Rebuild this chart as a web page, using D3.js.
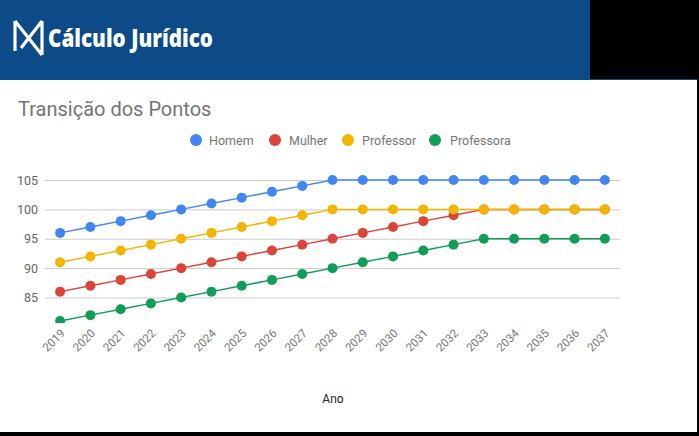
<!DOCTYPE html>
<html><head><meta charset="utf-8">
<script src="https://cdn.jsdelivr.net/npm/d3@7"></script>
<style>html,body{margin:0;padding:0;background:#fff;}svg{display:block;}</style>
</head><body>
<svg id="c" width="699" height="436"></svg>
<script>
const years = [2019,2020,2021,2022,2023,2024,2025,2026,2027,2028,2029,2030,2031,2032,2033,2034,2035,2036,2037];
const homem =      [96,97,98,99,100,101,102,103,104,105,105,105,105,105,105,105,105,105,105];
const mulher =     [86,87,88,89,90,91,92,93,94,95,96,97,98,99,100,100,100,100,100];
const professor =  [91,92,93,94,95,96,97,98,99,100,100,100,100,100,100,100,100,100,100];
const professora = [81,82,83,84,85,86,87,88,89,90,91,92,93,94,95,95,95,95,95];
const seriesNames = ["Homem","Mulher","Professor","Professora"];
const seriesColors = ["#4285f4","#db4437","#f4b400","#0f9d58"];
const yTicks = [85,90,95,100,105];

const series = [homem, mulher, professor, professora];
const svg = d3.select("#c");
const font = "Roboto, 'Noto Sans', sans-serif";

// header
svg.append("rect").attr("x",0).attr("y",0).attr("width",699).attr("height",80).attr("fill","#0c4a88");
svg.append("rect").attr("x",590).attr("y",0).attr("width",109).attr("height",79).attr("fill","#000");
// logo icon
svg.append("path")
  .attr("d","M15,21 L15,51 M15,21 L42,55 M42,21 L42,55 M42,21 L21,48")
  .attr("stroke","#fff").attr("stroke-width",3.2).attr("fill","none").attr("stroke-linejoin","miter");
svg.append("text").attr("x",48).attr("y",47).text("Cálculo Jurídico")
  .attr("fill","#fff").attr("font-family","'Open Sans', sans-serif").attr("font-weight","800")
  .attr("font-size",25).attr("textLength",165).attr("lengthAdjust","spacingAndGlyphs");

// borders
svg.append("rect").attr("x",697).attr("y",79).attr("width",2).attr("height",357).attr("fill","#000");
svg.append("rect").attr("x",0).attr("y",432).attr("width",699).attr("height",4).attr("fill","#000");

// title
svg.append("text").attr("x",18).attr("y",116).text("Transição dos Pontos")
  .attr("fill","#757575").attr("font-family",font).attr("font-size",20);

// legend
const legX = [196,275,348,435];
const legTX = [209,289,362,450];
seriesNames.forEach((n,i)=>{
  svg.append("circle").attr("cx",legX[i]).attr("cy",140).attr("r",6).attr("fill",seriesColors[i]);
  svg.append("text").attr("x",legTX[i]).attr("y",144.5).text(n)
    .attr("fill","#757575").attr("font-family",font).attr("font-size",12.5);
});

const x = d3.scalePoint().domain(years).range([45,620]).padding(0.5);
const y = d3.scaleLinear().domain([81,105]).range([321,180]);

// grid
const yAxis = d3.axisLeft(y).tickValues(yTicks).tickSize(-575).tickPadding(7);
const gy = svg.append("g").attr("transform","translate(45,0)").call(yAxis);
gy.select(".domain").remove();
gy.selectAll(".tick line").attr("stroke","#cccccc");
gy.selectAll(".tick text").attr("fill","#666").attr("font-family",font).attr("font-size",12.5);

// x axis labels
const xAxis = d3.axisBottom(x).tickSize(0).tickPadding(0);
const gx = svg.append("g").attr("transform","translate(0,321)").call(xAxis);
gx.select(".domain").remove();
gx.selectAll(".tick text").attr("fill","#757575").attr("font-family",font).attr("font-size",11.5)
  .attr("text-anchor","end").attr("dy",null).attr("y",0)
  .attr("transform","translate(5,13) rotate(-45)");

svg.append("text").attr("x",333).attr("y",403).attr("text-anchor","middle").text("Ano")
  .attr("fill","#222").attr("font-family",font).attr("font-size",12);

// clip
svg.append("clipPath").attr("id","cp").append("rect").attr("x",0).attr("y",170).attr("width",699).attr("height",153);
const plot = svg.append("g").attr("clip-path","url(#cp)");
const line = d3.line().x((d,i)=>x(years[i])).y(d=>y(d));
const order = [3,1,2,0];
order.forEach(i=>{
  plot.append("path").datum(series[i]).attr("d",line).attr("fill","none")
    .attr("stroke",seriesColors[i]).attr("stroke-width",1.5);
});
order.forEach(i=>{
  plot.selectAll(null).data(series[i]).enter().append("circle")
    .attr("cx",(d,j)=>x(years[j])).attr("cy",d=>y(d)).attr("r",5).attr("fill",seriesColors[i]);
});
</script>
</body></html>
